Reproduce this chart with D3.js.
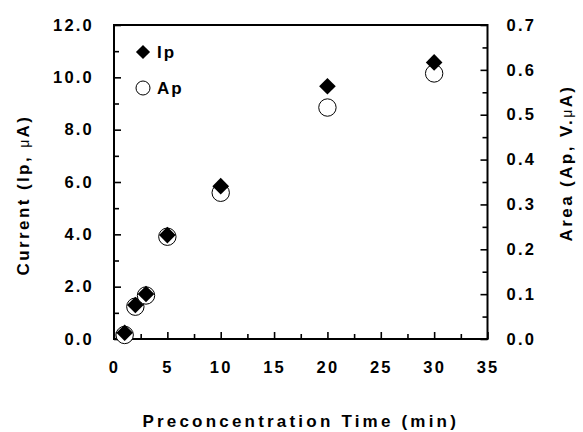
<!DOCTYPE html>
<html>
<head>
<meta charset="utf-8">
<script src="https://cdn.jsdelivr.net/npm/d3@7"></script>
<style>
  body { margin: 0; background: #fff; }
  text { font-family: "Liberation Sans", Arial, sans-serif; font-weight: bold; fill: #000; }
</style>
</head>
<body>
<div id="chart"></div>
<script>
// preconcentration time (min)
const times = [1, 2, 3, 5, 10, 20, 30];
// peak current Ip (uA), left axis
const ipValues = [0.24, 1.30, 1.72, 3.97, 5.84, 9.66, 10.57];
// peak area Ap (V.uA), right axis
const apValues = [0.009, 0.072, 0.097, 0.228, 0.326, 0.516, 0.592];

const xTicks = [0, 5, 10, 15, 20, 25, 30, 35];
const yLeftTicks = [0, 2, 4, 6, 8, 10, 12];
const yRightTicks = [0, 0.1, 0.2, 0.3, 0.4, 0.5, 0.6, 0.7];

const width = 583, height = 432;
const m = { left: 114, right: 487.5, top: 25, bottom: 339 };

const svg = d3.select("#chart").append("svg")
    .attr("width", width)
    .attr("height", height);

const x = d3.scaleLinear().domain([0, 35]).range([m.left, m.right]);
const yL = d3.scaleLinear().domain([0, 12]).range([m.bottom, m.top]);
const yR = d3.scaleLinear().domain([0, 0.7]).range([m.bottom, m.top]);

const majorLen = 7, minorLen = 5;

// x axis (ticks point inward)
const xAxis = d3.axisBottom(x).tickValues(xTicks).tickSize(-majorLen).tickPadding(22)
    .tickFormat(d3.format("d"));
svg.append("g").attr("transform", `translate(0,${m.bottom})`).call(xAxis);
svg.append("g").attr("transform", `translate(0,${m.bottom})`)
    .call(d3.axisBottom(x).tickValues(d3.range(2.5, 35, 5)).tickSize(-minorLen).tickFormat(""));

// left axis
const yLAxis = d3.axisLeft(yL).tickValues(yLeftTicks).tickSize(-majorLen).tickPadding(20)
    .tickFormat(d3.format(".1f"));
svg.append("g").attr("transform", `translate(${m.left},0)`).call(yLAxis);
svg.append("g").attr("transform", `translate(${m.left},0)`)
    .call(d3.axisLeft(yL).tickValues(d3.range(1, 12, 2)).tickSize(-minorLen).tickFormat(""));

// right axis
const yRAxis = d3.axisRight(yR).tickValues(yRightTicks).tickSize(-majorLen).tickPadding(19)
    .tickFormat(d3.format(".1f"));
svg.append("g").attr("transform", `translate(${m.right},0)`).call(yRAxis);
svg.append("g").attr("transform", `translate(${m.right},0)`)
    .call(d3.axisRight(yR).tickValues(d3.range(0.05, 0.7, 0.1)).tickSize(-minorLen).tickFormat(""));

svg.selectAll(".domain").remove();
svg.selectAll(".tick line").attr("stroke", "#000").attr("stroke-width", 1.6);
svg.selectAll(".tick text")
    .style("font-family", "'Liberation Sans', Arial, sans-serif")
    .style("font-weight", "bold")
    .style("font-size", "16.5px")
    .style("letter-spacing", "2.2px")
    .attr("fill", "#000");

// frame
svg.append("rect")
    .attr("x", m.left).attr("y", m.top)
    .attr("width", m.right - m.left).attr("height", m.bottom - m.top)
    .attr("fill", "none").attr("stroke", "#000").attr("stroke-width", 2);

// data: circles first, diamonds on top
const pts = times.map((t, i) => ({ t, ip: ipValues[i], ap: apValues[i] }));
const diamond = d3.symbol().type(d3.symbolDiamond2).size(2 * 9.4 * 9.4);

svg.append("g").selectAll("circle").data(pts).join("circle")
    .attr("cx", d => x(d.t)).attr("cy", d => yR(d.ap)).attr("r", 8.7)
    .attr("fill", "#fff").attr("stroke", "#000").attr("stroke-width", 1);

svg.append("g").selectAll("path").data(pts).join("path")
    .attr("d", diamond)
    .attr("transform", d => `translate(${x(d.t)},${yL(d.ip)})`)
    .attr("fill", "#000");

// legend
const legend = svg.append("g");
legend.append("path")
    .attr("d", d3.symbol().type(d3.symbolDiamond2).size(2 * 8 * 8))
    .attr("transform", "translate(143,52)").attr("fill", "#000");
legend.append("text").attr("x", 157).attr("y", 58)
    .style("font-size", "17px").style("letter-spacing", "2px").text("Ip");
legend.append("circle").attr("cx", 143).attr("cy", 88).attr("r", 7)
    .attr("fill", "#fff").attr("stroke", "#000").attr("stroke-width", 1);
legend.append("text").attr("x", 157).attr("y", 94)
    .style("font-size", "17px").style("letter-spacing", "2px").text("Ap");

// axis titles
svg.append("text")
    .attr("x", (m.left + m.right) / 2).attr("y", 427)
    .attr("text-anchor", "middle")
    .style("font-size", "17px").style("letter-spacing", "3.2px")
    .text("Preconcentration Time (min)");

const lt = svg.append("text")
    .attr("transform", "translate(29,195) rotate(-90)")
    .attr("text-anchor", "middle")
    .style("font-size", "17px").style("letter-spacing", "2.4px");
lt.append("tspan").text("Current (Ip, ");
lt.append("tspan").style("font-weight", "normal").style("font-size", "14px").text("\u03bc");
lt.append("tspan").text("A)");

const rt = svg.append("text")
    .attr("transform", "translate(572,163) rotate(-90)")
    .attr("text-anchor", "middle")
    .style("font-size", "17px").style("letter-spacing", "2.4px");
rt.append("tspan").text("Area (Ap, V.");
rt.append("tspan").style("font-weight", "normal").style("font-size", "14px").text("\u03bc");
rt.append("tspan").text("A)");
</script>
</body>
</html>
